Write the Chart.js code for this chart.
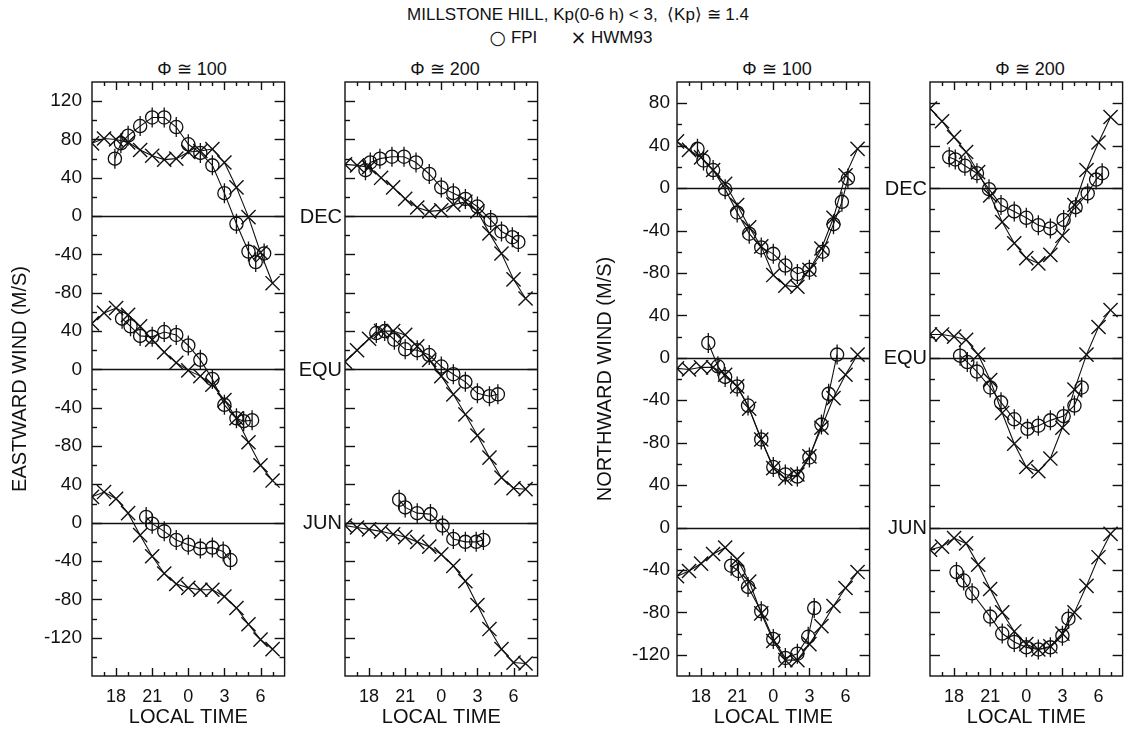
<!DOCTYPE html>
<html>
<head>
<meta charset="utf-8">
<script src="https://cdn.jsdelivr.net/npm/chart.js@4.4.1/dist/chart.umd.min.js"></script>
<style>
html, body { margin: 0; padding: 0; overflow: hidden; background: #fff; width: 1128px; height: 729px; }
body { position: relative; font-family: "Liberation Sans", Arial, sans-serif; color: #111; }
canvas { position: absolute; top: 70px; }
.t { position: absolute; white-space: nowrap; transform: translateX(-50%); line-height: 1; }
.s { font-family: "DejaVu Sans", sans-serif; font-size: 19px; vertical-align: -1px; }
</style>
</head>
<body>
<div class="t" style="left:578px;top:6px;font-size:17px">MILLSTONE HILL, Kp(0-6 h) &lt; 3,&nbsp; ⟨Kp⟩ ≅ 1.4</div>
<div class="t" style="left:571px;top:28px;font-size:17px"><span class="s">○</span> FPI&nbsp;&nbsp;&nbsp;&nbsp;&nbsp;&nbsp;&nbsp;<span class="s">×</span> HWM93</div>
<div class="t" style="left:192px;top:60px;font-size:18px">Φ ≅ 100</div>
<div class="t" style="left:445px;top:60px;font-size:18px">Φ ≅ 200</div>
<div class="t" style="left:777px;top:60px;font-size:18px">Φ ≅ 100</div>
<div class="t" style="left:1030px;top:60px;font-size:18px">Φ ≅ 200</div>

<canvas id="p1" width="296" height="659" style="left:0px"></canvas>
<canvas id="p2" width="255" height="659" style="left:294px"></canvas>
<canvas id="p3" width="296" height="659" style="left:585px"></canvas>
<canvas id="p4" width="254" height="659" style="left:880px"></canvas>

<script>
// local time in hours, 24 = midnight, 30 = 06 LT
const HWM_T = [16, 17, 18, 19, 20, 21, 22, 23, 24, 25, 26, 27, 28, 29, 30, 31];
const X_LABELS = [18, 21, 24, 27, 30];
const BANDS = ['DEC', 'EQU', 'JUN'];
const BAND_SHIFT = [320, 160, 0];

// eastward wind, flux 100
const E1_DEC_HWM = [76, 81, 80, 77, 69, 63, 59, 60, 67, 68, 70, 56, 30, -1, -38, -70];
const E1_DEC_FPI_T = [17.9, 18.4, 19, 20, 21, 22, 23, 24, 25, 26, 27, 28, 29, 29.6, 30.3];
const E1_DEC_FPI = [60, 76, 84, 94, 103, 103, 93, 75, 66, 53, 24, -8, -37, -48, -39];
const E1_EQU_HWM = [48, 59, 64, 57, 45, 31, 18, 7, -1, -7, -16, -32, -51, -76, -100, -116];
const E1_EQU_FPI_T = [18.5, 19.2, 20, 21, 22, 23, 24, 25, 26, 27, 28, 28.6, 29.3];
const E1_EQU_FPI = [53, 45, 35, 34, 39, 36, 25, 10, -10, -37, -51, -54, -53];
const E1_JUN_HWM = [27, 32, 25, 10, -13, -35, -53, -64, -68, -70, -70, -77, -89, -106, -122, -132];
const E1_JUN_FPI_T = [20.5, 21, 22, 23, 24, 25, 26, 26.9, 27.5];
const E1_JUN_FPI = [6, -1, -9, -18, -23, -27, -26, -30, -39];

// eastward wind, flux 200
const E2_DEC_HWM = [54, 53, 51, 40, 30, 18, 9, 5, 6, 12, 15, 5, -18, -39, -66, -86];
const E2_DEC_FPI_T = [17.7, 18.1, 18.9, 19.9, 20.9, 21.9, 23, 24, 25, 26, 27, 28.1, 29, 29.9, 30.4];
const E2_DEC_FPI = [48, 56, 60, 62, 62, 56, 44, 30, 24, 18, 10, -4, -16, -22, -27];
const E2_EQU_HWM = [8, 20, 32, 40, 40, 36, 24, 10, -7, -26, -47, -69, -92, -113, -124, -125];
const E2_EQU_FPI_T = [18.6, 19.3, 20.1, 21, 22, 23, 24, 25, 26, 27, 28, 28.7];
const E2_EQU_FPI = [38, 40, 31, 21, 20, 15, 3, -5, -13, -25, -28, -26];
const E2_JUN_HWM = [-3, -5, -7, -9, -12, -15, -20, -25, -33, -45, -61, -86, -111, -132, -146, -147];
const E2_JUN_FPI_T = [20.5, 21, 22, 23.1, 24.1, 25, 26, 26.9, 27.5];
const E2_JUN_FPI = [24, 16, 10, 9, -3, -17, -20, -20, -18];

// northward wind, flux 100
const N1_DEC_HWM = [44, 36, 29, 17, 4, -16, -37, -55, -82, -92, -93, -77, -57, -28, 12, 37];
const N1_DEC_FPI_T = [17.7, 18.2, 19, 20, 21, 22, 23, 24, 25, 26, 27, 28.1, 29, 29.7, 30.2];
const N1_DEC_FPI = [37, 26, 17, -1, -23, -43, -56, -62, -73, -81, -77, -60, -34, -13, 9];
const N1_EQU_HWM = [-10, -11, -9, -9, -16, -27, -48, -77, -104, -114, -110, -93, -66, -38, -16, 3];
const N1_EQU_FPI_T = [18.6, 19.4, 20, 21, 21.9, 23, 24, 25, 26, 27, 28, 28.6, 29.3];
const N1_EQU_FPI = [14, -8, -18, -27, -45, -77, -103, -110, -112, -94, -63, -34, 3];
const N1_JUN_HWM = [-46, -41, -34, -25, -19, -30, -51, -81, -107, -125, -125, -110, -93, -74, -57, -42];
const N1_JUN_FPI_T = [20.5, 21.1, 21.9, 23, 24, 25, 26, 26.9, 27.4];
const N1_JUN_FPI = [-36, -41, -56, -79, -105, -123, -119, -103, -76];

// northward wind, flux 200
const N2_DEC_HWM = [75, 63, 48, 34, 15, -7, -32, -52, -66, -71, -63, -45, -16, 17, 43, 67];
const N2_DEC_FPI_T = [17.6, 18.1, 18.9, 19.9, 20.9, 21.9, 23, 24, 25, 26, 27.1, 28.1, 29.1, 29.8, 30.3];
const N2_DEC_FPI = [29, 27, 21, 14, -1, -16, -22, -28, -35, -38, -30, -18, -5, 8, 14];
const N2_EQU_HWM = [22, 22, 20, 17, 3, -21, -52, -81, -103, -107, -95, -66, -30, 3, 29, 45];
const N2_EQU_FPI_T = [18.5, 19.1, 19.9, 21, 21.9, 23, 24.1, 25, 26, 27.1, 28, 28.6];
const N2_EQU_FPI = [2, -4, -13, -28, -42, -58, -67, -64, -59, -55, -45, -28];
const N2_JUN_HWM = [-21, -18, -10, -15, -35, -58, -80, -98, -110, -115, -112, -100, -80, -55, -28, -6];
const N2_JUN_FPI_T = [18.2, 18.8, 19.5, 21, 22, 23, 24, 25, 26, 27, 27.5];
const N2_JUN_FPI = [-42, -50, -62, -84, -100, -108, -113, -115, -113, -102, -86];

const EAST_TICKS = [-120, -80, -40, 0, 40, 80, 120, 160, 200, 240, 280, 320, 360, 400, 440];
const NORTH_TICKS = [-120, -80, -40, 0, 40, 80, 120, 160, 200, 240, 280, 320, 360, 400];

const INK = '#111';
const FONT = '"Liberation Sans", Arial, sans-serif';
Chart.defaults.font.family = FONT;
Chart.defaults.color = INK;

function bandLabel(v) {
  if (v >= 240) return String(v - 320);
  if (v >= 80) return String(v - 160);
  return String(v);
}

function seg(ctx, x1, y1, x2, y2) {
  ctx.beginPath(); ctx.moveTo(x1, y1); ctx.lineTo(x2, y2); ctx.stroke();
}

function noPad(s) {
  s.paddingTop = 0; s.paddingBottom = 0; s.paddingLeft = 0; s.paddingRight = 0;
}

const frame = {
  id: 'frame',
  beforeDatasetsDraw(chart) {
    const { ctx, chartArea: a, scales: { y } } = chart;
    ctx.save();
    ctx.strokeStyle = INK; ctx.lineWidth = 1.4;
    BAND_SHIFT.forEach(s => {
      const py = Math.round(y.getPixelForValue(s)) + 0.5;
      seg(ctx, a.left, py, a.right, py);
    });
    ctx.restore();
  },
  afterDatasetsDraw(chart, args, opts) {
    const { ctx, chartArea: a, scales: { x, y } } = chart;
    ctx.save();
    ctx.strokeStyle = INK;
    // error bars through the FPI circles
    ctx.beginPath(); ctx.rect(a.left, a.top, a.right - a.left, a.bottom - a.top); ctx.clip();
    ctx.lineWidth = 1.3;
    chart.data.datasets.forEach((ds, i) => {
      if (!ds.fpi) return;
      chart.getDatasetMeta(i).data.forEach(p => seg(ctx, p.x, p.y - 10, p.x, p.y + 10));
    });
    ctx.restore();
    ctx.save();
    ctx.strokeStyle = INK; ctx.lineWidth = 1.4;
    ctx.strokeRect(a.left, a.top, a.right - a.left, a.bottom - a.top);
    for (let h = Math.ceil(x.min) + 1; h < x.max; h++) {
      const px = Math.round(x.getPixelForValue(h)) + 0.5;
      const len = h % 3 === 0 ? 8 : 4;
      seg(ctx, px, a.bottom, px, a.bottom - len);
      seg(ctx, px, a.top, px, a.top + len);
    }
    for (let v = y.min + 20; v < y.max; v += 20) {
      const py = Math.round(y.getPixelForValue(v)) + 0.5;
      const len = v % 40 === 0 ? 10 : 5;
      seg(ctx, a.left, py, a.left + len, py);
      seg(ctx, a.right, py, a.right - len, py);
    }
    if (opts.bands) {
      ctx.fillStyle = INK;
      ctx.font = '20px ' + FONT;
      ctx.textAlign = 'right'; ctx.textBaseline = 'middle';
      BANDS.forEach((b, i) => ctx.fillText(b, a.left - 3, y.getPixelForValue(BAND_SHIFT[i]) + 1));
    }
    ctx.restore();
  }
};

function series(ts, vs, shift) {
  return ts.map((t, i) => ({ x: t, y: vs[i] + shift }));
}

function makePanel(id, yw, kind, sets, opt) {
  const datasets = [];
  sets.forEach((s, i) => {
    const shift = BAND_SHIFT[i];
    datasets.push({
      data: series(HWM_T, s.hwm, shift),
      borderColor: INK, borderWidth: 1.1, pointStyle: 'crossRot', pointRadius: 10,
      pointBorderColor: INK, pointBorderWidth: 1.4, tension: 0, clip: 0
    });
    datasets.push({
      fpi: true,
      data: series(s.fpiT, s.fpi, shift),
      borderColor: INK, borderWidth: 1.1, pointStyle: 'circle', pointRadius: 6.6,
      pointBorderColor: INK, pointBackgroundColor: 'rgba(0,0,0,0)', pointBorderWidth: 1.3,
      tension: 0, clip: 0
    });
  });
  const north = kind === 'north';
  return new Chart(document.getElementById(id), {
    type: 'line',
    data: { datasets },
    options: {
      responsive: false, animation: false,
      layout: { padding: { top: 12, right: 4, left: 0, bottom: 0 } },
      plugins: { legend: { display: false }, tooltip: { enabled: false }, frame: { bands: opt.bands } },
      scales: {
        x: {
          type: 'linear', min: 16, max: 32,
          afterBuildTicks: s => { s.ticks = X_LABELS.map(v => ({ value: v })); },
          afterFit: s => { s.height = 53; noPad(s); },
          grid: { display: false, drawTicks: false }, border: { display: false },
          ticks: { autoSkip: false, maxRotation: 0, padding: 10, color: INK, font: { size: 18 },
                   callback: v => String(v % 24) },
          title: { display: true, text: 'LOCAL TIME', color: INK, font: { size: 20 }, padding: 0 }
        },
        y: {
          type: 'linear', min: north ? -140 : -160, max: north ? 420 : 460,
          afterBuildTicks: s => { s.ticks = (north ? NORTH_TICKS : EAST_TICKS).map(v => ({ value: v })); },
          afterFit: s => { s.width = yw; noPad(s); },
          grid: { display: false, drawTicks: false }, border: { display: false },
          ticks: { display: !!opt.title, autoSkip: false, padding: opt.pad || 8, color: INK, font: { size: 19 },
                   callback: v => bandLabel(v) },
          title: { display: !!opt.title, text: opt.title || '', color: INK, font: { size: 20 },
                   padding: { top: 8, bottom: 0 } }
        }
      }
    },
    plugins: [frame]
  });
}

makePanel('p1', 92, 'east', [
  { hwm: E1_DEC_HWM, fpiT: E1_DEC_FPI_T, fpi: E1_DEC_FPI },
  { hwm: E1_EQU_HWM, fpiT: E1_EQU_FPI_T, fpi: E1_EQU_FPI },
  { hwm: E1_JUN_HWM, fpiT: E1_JUN_FPI_T, fpi: E1_JUN_FPI }
], { title: 'EASTWARD WIND (M/S)', pad: 10 });

makePanel('p2', 51, 'east', [
  { hwm: E2_DEC_HWM, fpiT: E2_DEC_FPI_T, fpi: E2_DEC_FPI },
  { hwm: E2_EQU_HWM, fpiT: E2_EQU_FPI_T, fpi: E2_EQU_FPI },
  { hwm: E2_JUN_HWM, fpiT: E2_JUN_FPI_T, fpi: E2_JUN_FPI }
], { bands: true });

makePanel('p3', 92, 'north', [
  { hwm: N1_DEC_HWM, fpiT: N1_DEC_FPI_T, fpi: N1_DEC_FPI },
  { hwm: N1_EQU_HWM, fpiT: N1_EQU_FPI_T, fpi: N1_EQU_FPI },
  { hwm: N1_JUN_HWM, fpiT: N1_JUN_FPI_T, fpi: N1_JUN_FPI }
], { title: 'NORTHWARD WIND (M/S)', pad: 7 });

makePanel('p4', 50, 'north', [
  { hwm: N2_DEC_HWM, fpiT: N2_DEC_FPI_T, fpi: N2_DEC_FPI },
  { hwm: N2_EQU_HWM, fpiT: N2_EQU_FPI_T, fpi: N2_EQU_FPI },
  { hwm: N2_JUN_HWM, fpiT: N2_JUN_FPI_T, fpi: N2_JUN_FPI }
], { bands: true });
</script>
</body>
</html>
